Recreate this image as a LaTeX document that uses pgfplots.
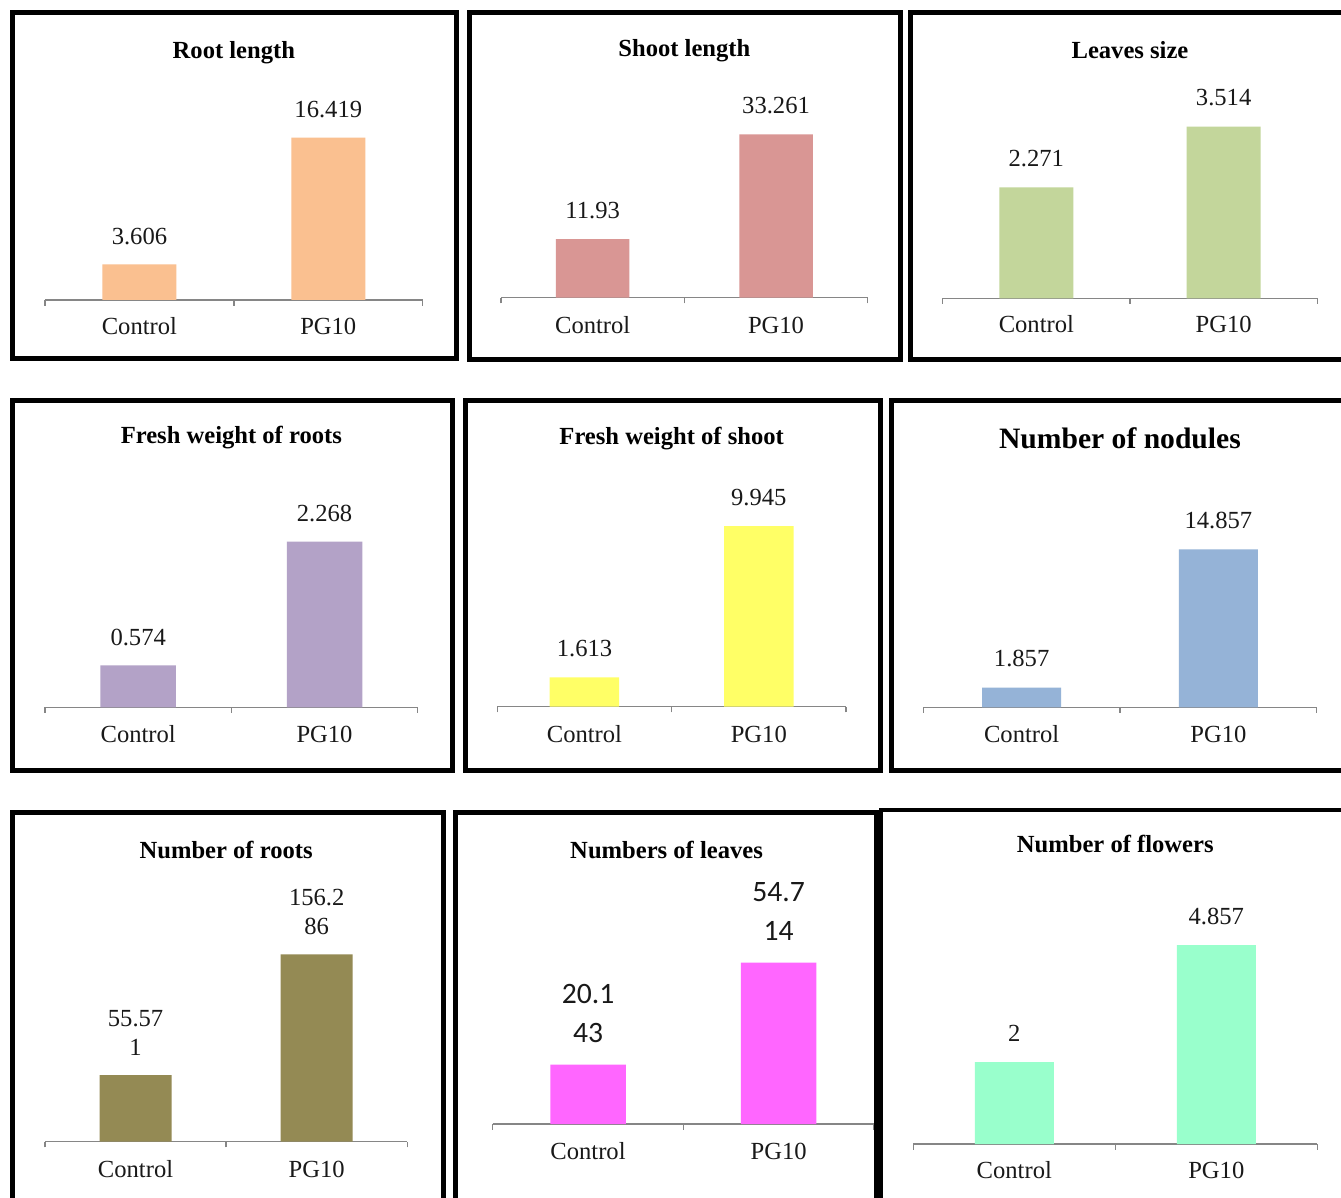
\documentclass[border=0pt]{standalone}
\usepackage{pgfplots}
\pgfplotsset{compat=1.18}
\usepackage{fontspec}
\setmainfont{Liberation Serif}
\newfontfamily\carlito{Carlito}
\definecolor{axgray}{HTML}{868686}
\definecolor{cRL}{HTML}{FAC090}
\definecolor{cSL}{HTML}{D99694}
\definecolor{cLS}{HTML}{C3D69B}
\definecolor{cFR}{HTML}{B3A2C7}
\definecolor{cFS}{HTML}{FFFF66}
\definecolor{cNN}{HTML}{95B3D7}
\definecolor{cNR}{HTML}{948A54}
\definecolor{cNL}{HTML}{FF66FF}
\definecolor{cNF}{HTML}{99FFCC}
\pgfplotsset{
  panel/.style={
    scale only axis, anchor=south west,
    xmin=0, xmax=2, ymin=0, enlargelimits=false,
    axis x line*=bottom, axis y line=none,
    axis line style={draw=axgray, line width=0.75pt},
    every tick/.style={draw=axgray, line width=0.75pt},
    xtick={0.5,1.5}, xticklabels={Control,PG10},
    major tick length=0pt,
    extra x ticks={0,1,2}, extra x tick labels={},
    extra x tick style={major tick length=2.8pt, tick align=outside},
    xticklabel style={font=\fontsize{12.3}{14}\selectfont, anchor=base, text=black!90},
    ybar, clip=false,
    title style={at={(0.5,1)}, anchor=base, yshift=-6pt, font=\bfseries\fontsize{12.3}{14}\selectfont},
    point meta=explicit symbolic,
    nodes near coords,
    every node near coord/.append style={anchor=south, inner sep=0pt, yshift=9.75pt,
      font=\fontsize{12.3}{14.5}\selectfont, align=center, text=black!90},
  }
}
\begin{document}
\begin{tikzpicture}
\clip (0,0) rectangle (670.5pt,-599pt);
\fill[white] (0,0) rectangle (670.5pt,-599pt);

% Row 1
\begin{axis}[panel, at={(22.5pt,-150pt)}, width=188.85pt, height=120.85pt, ymax=24.45,
  bar width=37pt, title={Root length}, xticklabel style={yshift=-17.5pt}]
\addplot[fill=cRL, draw=none] coordinates {(0.5,3.606) [3.606] (1.5,16.419) [16.419]};
\end{axis}

\begin{axis}[panel, at={(250.5pt,-148.85pt)}, width=183.35pt, height=120.5pt, ymax=49.05,
  bar width=36.75pt, title={Shoot length}, xticklabel style={yshift=-17.8pt},
  every node near coord/.append style={yshift=0.25pt}]
\addplot[fill=cSL, draw=none] coordinates {(0.5,11.93) [11.93] (1.5,33.261) [33.261]};
\end{axis}

\begin{axis}[panel, at={(471.35pt,-149.15pt)}, width=187.3pt, height=120pt, ymax=4.915,
  bar width=37pt, title={Leaves size}, xticklabel style={yshift=-17.35pt},
  every node near coord/.append style={yshift=0.25pt}]
\addplot[fill=cLS, draw=none] coordinates {(0.5,2.271) [2.271] (1.5,3.514) [3.514]};
\end{axis}

% Row 2
\begin{axis}[panel, at={(22.5pt,-353.65pt)}, width=186.35pt, height=131.65pt, ymax=3.607,
  bar width=37.75pt, title={Fresh weight of roots}, xticklabel style={yshift=-17.7pt}]
\addplot[fill=cFR, draw=none] coordinates {(0.5,0.574) [0.574] (1.5,2.268) [2.268]};
\end{axis}

\begin{axis}[panel, at={(248.65pt,-353.35pt)}, width=174.35pt, height=131.35pt, ymax=14.46,
  bar width=34.75pt, title={Fresh weight of shoot}, xticklabel style={yshift=-18pt},
  every node near coord/.append style={yshift=0.25pt}]
\addplot[fill=cFS, draw=none] coordinates {(0.5,1.613) [1.613] (1.5,9.945) [9.945]};
\end{axis}

\begin{axis}[panel, at={(461.65pt,-353.65pt)}, width=196.7pt, height=129.5pt, ymax=24.37,
  bar width=39.5pt, title={Number of nodules}, xticklabel style={yshift=-17.7pt},
  title style={font=\bfseries\fontsize{14.8}{17}\selectfont},
  every node near coord/.append style={yshift=0.25pt}]
\addplot[fill=cNN, draw=none] coordinates {(0.5,1.857) [1.857] (1.5,14.857) [14.857]};
\end{axis}

% Row 3
\begin{axis}[panel, at={(22.5pt,-570.85pt)}, width=181.15pt, height=141.7pt, ymax=236.4,
  bar width=36pt, title={Number of roots}, xticklabel style={yshift=-17.8pt}]
\addplot[fill=cNR, draw=none] coordinates {(0.5,55.571) [{55.57\\1}] (1.5,156.286) [{156.2\\86}]};
\end{axis}

\begin{axis}[panel, at={(246.35pt,-562pt)}, width=190.65pt, height=132.85pt, ymax=90.1,
  bar width=37.75pt, title={Numbers of leaves}, xticklabel style={yshift=-17.65pt},
  title style={at={(0.456,1)}},
  every node near coord/.append style={yshift=1.25pt, font=\carlito\fontsize{14.8}{19.25}\selectfont}]
\addplot[fill=cNL, draw=none] coordinates {(0.5,20.143) [{20.1\\43}] (1.5,54.714) [{54.7\\14}]};
\end{axis}

\begin{axis}[panel, at={(456.65pt,-572pt)}, width=202pt, height=145.65pt, ymax=7.11,
  bar width=39.5pt, title={Number of flowers}, xticklabel style={yshift=-17.15pt},
  every node near coord/.append style={yshift=0.25pt}]
\addplot[fill=cNF, draw=none] coordinates {(0.5,2) [2] (1.5,4.857) [4.857]};
\end{axis}

% Borders
\begin{scope}[line width=2.5pt, draw=black]
\draw (6.25pt,-6.25pt) rectangle (228pt,-179.5pt);
\draw (234.6pt,-6.25pt) rectangle (450.4pt,-180pt);
\draw (455.1pt,-6.25pt) rectangle (680pt,-180pt);
\draw (6.25pt,-200.4pt) rectangle (226.25pt,-385pt);
\draw (232.5pt,-200.25pt) rectangle (440pt,-385pt);
\draw (445.6pt,-200.4pt) rectangle (680pt,-385pt);
\draw (6.25pt,-406.25pt) rectangle (221.65pt,-610pt);
\draw (227.9pt,-406.25pt) rectangle (438.15pt,-610pt);
\end{scope}
\draw[line width=2pt] (440.5pt,-610pt) -- (440.5pt,-405pt);
\draw[line width=1.75pt] (439.5pt,-405pt) -- (680pt,-405pt);
\end{tikzpicture}
\end{document}
